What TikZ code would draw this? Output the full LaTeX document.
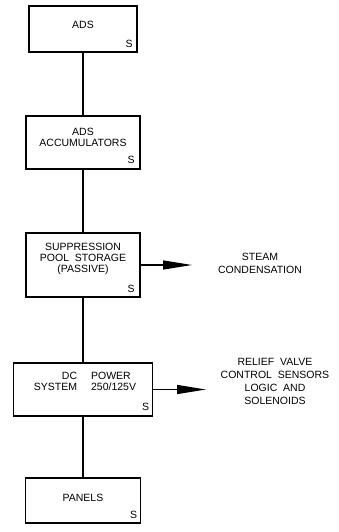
\documentclass[tikz,border=0pt]{standalone}
\usepackage{fontspec}
\setmainfont{Liberation Sans}
\usetikzlibrary{arrows.meta,positioning,calc}
\tikzset{
  sysbox/.style={draw=black, line width=1.8pt, inner sep=0pt,
    minimum width=#1},
  boxtext/.style={align=center, inner sep=0pt,
    font=\fontsize{10.5}{11}\selectfont},
  sflag/.style={anchor=south east, inner sep=0pt,
    font=\fontsize{10.5}{11}\selectfont},
  link/.style={line width=1.3pt},
  outarrow/.style={-{Triangle[length=29pt,width=9pt]}, line width=1.3pt},
  outtext/.style={align=center, inner sep=0pt,
    font=\fontsize{10.5}{13}\selectfont},
}

\begin{document}
\begin{tikzpicture}[x=1pt, y=-1pt]
      \useasboundingbox (0,0) rectangle (339,532);

      %% ---- system boxes ----
      \node[sysbox=108pt, minimum height=46pt] (ads) at (83,29) {};
      \node[boxtext] (ads-t) at ([yshift=4pt]ads.center) {ADS};
      \node[sflag] (ads-s) at ([xshift=-5pt,yshift=5pt]ads.south east) {S};

      \node[sysbox=114pt, minimum height=53pt] (adsacc) at (83,142.5) {};
      \node[boxtext] (adsacc-t) at ([yshift=5pt]adsacc.center) {ADS\\ACCUMULATORS};
      \node[sflag] (adsacc-s) at ([xshift=-6pt,yshift=6pt]adsacc.south east) {S};

      \node[sysbox=114pt, minimum height=64pt] (pool) at (83,265) {};
      \node[boxtext] (pool-t) at ([yshift=6pt]pool.center)
           {SUPPRESSION\\POOL\ \ STORAGE\\(PASSIVE)};
      \node[sflag] (pool-s) at ([xshift=-6pt,yshift=5pt]pool.south east) {S};

      \node[sysbox=139pt, minimum height=53pt] (dcpower) at (83,389.5) {};
      \node[boxtext] (dcpower-t) at ([xshift=2pt,yshift=7pt]dcpower.center)
           {\begin{tabular}{@{}r@{\hspace{14pt}}l@{}}DC & POWER\\SYSTEM & 250/125V\end{tabular}};
      \node[sflag] (dcpower-s) at ([xshift=-4pt,yshift=6pt]dcpower.south east) {S};

      \node[sysbox=115pt, minimum height=45pt] (panels) at (83,500.5) {};
      \node[boxtext] (panels-t) at ([yshift=3pt]panels.center) {PANELS};
      \node[sflag] (panels-s) at ([xshift=-4pt,yshift=5pt]panels.south east) {S};

      %% ---- vertical links ----
      \draw[link] (ads) -- (adsacc);
      \draw[link] (adsacc) -- (pool);
      \draw[link] (pool) -- (dcpower);
      \draw[link] (dcpower) -- (panels);

      %% ---- outputs ----
      \node[outtext] (steam) at (260,263.5) {STEAM\\CONDENSATION};
      \coordinate (steamtip) at (192,265);
      \draw[outarrow] (pool.east) -- (steamtip);

      \node[outtext] (relief) at (275,381)
           {RELIEF\ \ VALVE\\CONTROL\ \ SENSORS\\LOGIC\ \ AND\\SOLENOIDS};
      \coordinate (relieftip) at (206,389.5);
      \draw[outarrow] (dcpower.east) -- (relieftip);
\end{tikzpicture}
\end{document}
